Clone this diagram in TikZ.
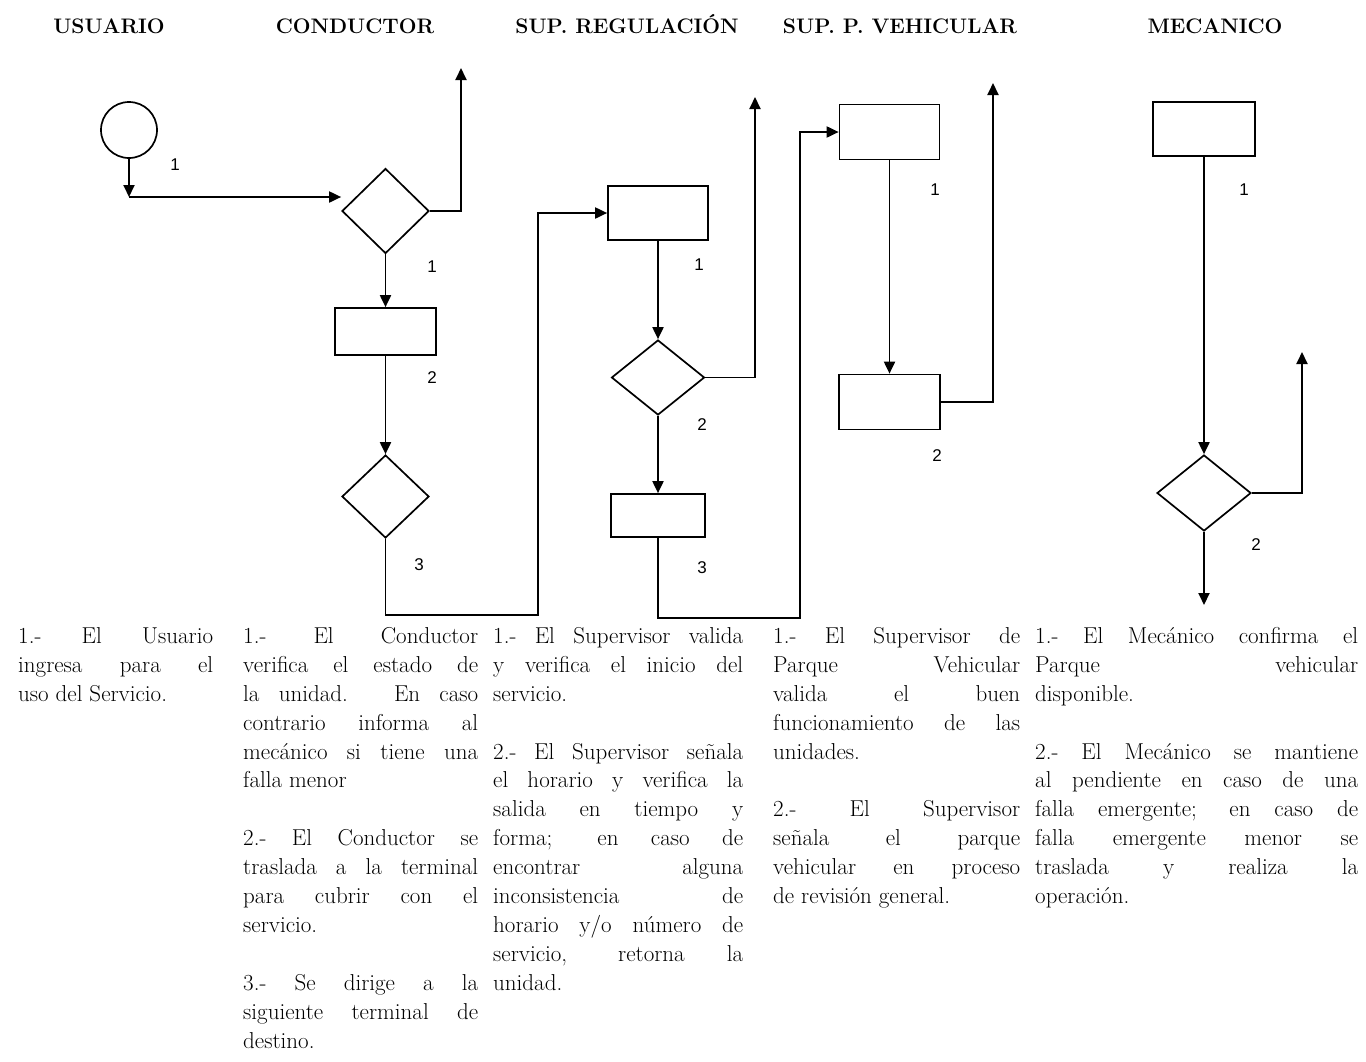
\documentclass[tikz,border=0pt]{standalone}
\usepackage{fontspec}
\newfontfamily\etiqfont{Liberation Sans}
\usepackage{tikz}
\usetikzlibrary{shapes.geometric,arrows.meta,positioning,calc}
\hbadness=10000

\begin{document}
\begin{tikzpicture}[x=1pt,y=-1pt,
    caja/.style={draw, rectangle, line width=1.7pt, inner sep=0pt},
    rombo/.style={draw, diamond, line width=1.7pt, inner sep=0pt},
    flecha/.style={-{Triangle[length=12pt,width=11pt]}, line width=1.9pt},
    num/.style={font=\etiqfont\fontsize{17}{17}\selectfont},
    titulo/.style={anchor=base, font=\bfseries\fontsize{21}{21}\selectfont},
    texto/.style={anchor=north west, inner sep=0pt, align=justify, font=\fontsize{23}{28.9}\selectfont}]
\useasboundingbox (0,0) rectangle (1366,1061);

% encabezados
\node[titulo] (hus) at (109,33) {USUARIO};
\node[titulo] (hco) at (355,33) {CONDUCTOR};
\node[titulo] (hsr) at (627,33) {SUP. REGULACIÓN};
\node[titulo] (hsv) at (900,33) {SUP. P. VEHICULAR};
\node[titulo] (hme) at (1215,33) {MECANICO};

% usuario
\node[draw, circle, line width=1.7pt, minimum size=56pt, inner sep=0pt] (ini) at (129,130) {};
\coordinate (esq) at (129,197);
\node[num] (n1) at (175,165) {1};

% conductor
\node[rombo, minimum width=87pt, minimum height=85pt] (d1) at (385.5,211) {};
\node[caja, minimum width=101pt, minimum height=47pt] (r1) at (385.5,331.5) {};
\node[rombo, minimum width=87pt, minimum height=83pt] (d2) at (385.5,496.5) {};
\coordinate (s1) at (461,68);
\coordinate (c1) at (538,615);
\node[num] (n2) at (432,267) {1};
\node[num] (n3) at (432,378) {2};
\node[num] (n4) at (419,565) {3};

% supervisor de regulacion
\node[caja, minimum width=100pt, minimum height=54pt] (sr1) at (658,213) {};
\node[rombo, minimum width=93pt, minimum height=75pt] (dsr) at (658,377.5) {};
\node[caja, minimum width=94pt, minimum height=43pt] (sr2) at (658,515.5) {};
\coordinate (s2) at (755,97);
\coordinate (c2) at (800,618);
\node[num] (n5) at (699,265) {1};
\node[num] (n6) at (702,425) {2};
\node[num] (n7) at (702,568) {3};

% supervisor de parque vehicular
\node[caja, minimum width=100pt, minimum height=55pt] (pv1) at (889.5,132) {};
\node[caja, minimum width=101pt, minimum height=55pt] (pv2) at (889.5,402) {};
\coordinate (s3) at (993,83);
\node[num] (n8) at (935,190) {1};
\node[num] (n9) at (937,456) {2};

% mecanico
\node[caja, minimum width=102pt, minimum height=54pt] (m1) at (1204,129) {};
\node[rombo, minimum width=94pt, minimum height=76pt] (dm) at (1204,493) {};
\coordinate (s4) at (1302,352);
\coordinate (s5) at (1204,605);
\node[num] (n10) at (1244,190) {1};
\node[num] (n11) at (1256,545) {2};

% conexiones
\draw[flecha] (ini) -- (esq);
\draw[flecha] (esq) -- (esq -| d1.west);
\draw[flecha] (d1.east) -| (s1);
\draw[flecha] (d1) -- (r1);
\draw[flecha] (r1) -- (d2);
\draw[flecha] (d2.south) |- (c1) |- (sr1.west);
\draw[flecha] (sr1) -- (dsr);
\draw[flecha] (dsr.east) -| (s2);
\draw[flecha] (dsr) -- (sr2);
\draw[flecha] (sr2.south) |- (c2) |- (pv1.west);
\draw[flecha] (pv1) -- (pv2);
\draw[flecha] (pv2.east) -| (s3);
\draw[flecha] (m1) -- (dm);
\draw[flecha] (dm.east) -| (s4);
\draw[flecha] (dm.south) -- (s5);

% descripciones
\node[texto, text width=195pt] (t1) at (18,623) {\strut 1.- El Usuario\linebreak ingresa para el\linebreak uso del Servicio.};
\node[texto, text width=235pt] (t2) at (243,623) {\strut 1.- El Conductor\linebreak verifica el estado de\linebreak la unidad. En caso\linebreak contrario informa al\linebreak mecánico si tiene una\linebreak falla menor\par\vspace{28.9pt}
2.- El Conductor se\linebreak traslada a la terminal\linebreak para cubrir con el\linebreak servicio.\par\vspace{28.9pt}
3.- Se dirige a la\linebreak siguiente terminal de\linebreak destino.};
\node[texto, text width=250pt] (t3) at (493,623) {\strut 1.- El Supervisor valida\linebreak y verifica el inicio del\linebreak servicio.\par\vspace{28.9pt}
2.- El Supervisor señala\linebreak el horario y verifica la\linebreak salida en tiempo y\linebreak forma; en caso de\linebreak encontrar alguna\linebreak inconsistencia de\linebreak horario y/o número de\linebreak servicio, retorna la\linebreak unidad.};
\node[texto, text width=247pt] (t4) at (773,623) {\strut 1.- El Supervisor de\linebreak Parque Vehicular\linebreak valida el buen\linebreak funcionamiento de las\linebreak unidades.\par\vspace{28.9pt}
2.- El Supervisor\linebreak señala el parque\linebreak vehicular en proceso\linebreak de revisión general.};
\node[texto, text width=323pt] (t5) at (1035,623) {\strut 1.- El Mecánico confirma el\linebreak Parque vehicular\linebreak disponible.\par\vspace{28.9pt}
2.- El Mecánico se mantiene\linebreak al pendiente en caso de una\linebreak falla emergente; en caso de\linebreak falla emergente menor se\linebreak traslada y realiza la\linebreak operación.};
\end{tikzpicture}
\end{document}
